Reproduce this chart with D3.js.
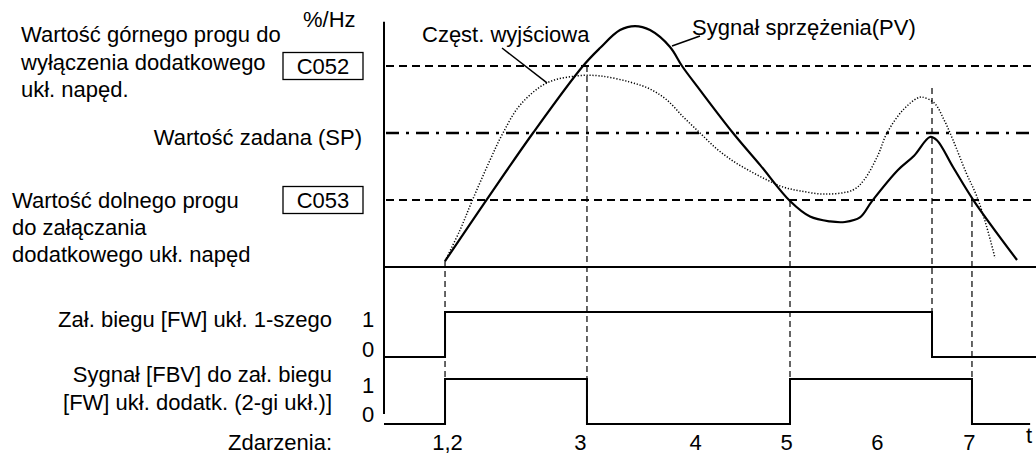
<!DOCTYPE html>
<html><head><meta charset="utf-8">
<script src="https://cdn.jsdelivr.net/npm/d3@7"></script>
<style>
html,body{margin:0;padding:0;background:#fff;}
svg{display:block;}
text{font-family:"Liberation Sans",Arial,Helvetica,sans-serif;font-size:22px;fill:#000;}
</style></head>
<body>
<svg id="chart" width="1036" height="455"></svg>
<script>
// ---------- data ----------
// time axis in arbitrary units (0..100), value axis in % (0..100)
const pvT   = [9.36,15.49,22.85,30.52,33.13,36.2,38.5,40.8,43.87,45.71,48.47,53.53,57.7,62.27,65.34,68.4,70.7,73.0,74.85,78.83,81.3,83.74,84.8,87.27,90.49,97.09];
const pvV   = [2.2,24.2,50.0,75.0,81.7,88.4,89.9,88.4,82.1,75.0,66.0,50.0,38.0,24.6,18.8,17.0,16.8,18.5,24.6,36.2,41.5,48.5,47.3,37.3,24.6,2.6];
const freqT = [9.36,11.66,13.5,16.26,18.25,20.86,25.0,29.6,33.13,37.73,40.8,43.4,45.9,48.47,51.07,53.53,56.13,58.74,61.2,63.8,67.64,71.9,73.6,75.7,77.15,79.6,81.8,82.52,84.4,85.9,87.27,89.3,90.9,92.4,93.71];
const freqV = [2.2,13.8,24.6,39.9,50.0,60.4,68.7,71.3,71.3,69.0,66.4,62.3,56.0,50.0,44.0,39.55,35.8,32.5,29.85,28.4,27.2,28.7,32.4,41.4,50.0,58.6,63.0,63.4,61.2,54.9,47.4,35.1,26.5,15.3,3.4];
const thresholdNames  = ["C052","SP","C053"];
const thresholdValues = [75, 50, 25];
const eventTimes  = [9.36, 31.13, 62.27, 84.05, 90.18];
const eventTopV   = [2.2, 75.0, 24.6, 66.0, 24.6];   // where the guide starts on the curve
const eventLabels = ["1,2","3","4","5","6","7"];
const eventLabelT = [9.66, 30.06, 47.7, 61.66, 75.6, 89.72];
const fwT   = [0, 9.36, 84.05, 100];
const fwV   = [0, 1, 0, 0];
const fbvT  = [0, 9.36, 31.13, 62.27, 90.18, 99.1];
const fbvV  = [0, 1, 0, 1, 0, 0];

// ---------- layout ----------
const svg = d3.select("#chart");
const x  = d3.scaleLinear().domain([0,100]).range([384,1036]);
const y  = d3.scaleLinear().domain([0,100]).range([267,-1]);
const yFW  = d3.scaleLinear().domain([0,1]).range([357,312]);
const yFBV = d3.scaleLinear().domain([0,1]).range([424,379]);

// vertical axis
svg.append("line").attr("x1",x(0)).attr("x2",x(0)).attr("y1",y(91.5)).attr("y2",414)
  .attr("stroke","#000").attr("stroke-width",2);

// main baseline
svg.append("line").attr("x1",x(0)).attr("x2",x(100)).attr("y1",y(0)).attr("y2",y(0))
  .attr("stroke","#000").attr("stroke-width",2);

// threshold lines
thresholdNames.forEach((n,i)=>{
  const sp = n==="SP";
  svg.append("line").attr("x1",x(0)+2).attr("x2",x(100)).attr("y1",y(thresholdValues[i])).attr("y2",y(thresholdValues[i]))
    .attr("stroke","#000").attr("stroke-width",sp?2.6:2)
    .attr("stroke-dasharray",sp?"13,7,3,7":"8,5");
});

// event guide lines
eventTimes.forEach((t,i)=>{
  const bottom = (i===3) ? yFW(0) : yFBV(0);
  svg.append("line").attr("x1",x(t)).attr("x2",x(t)).attr("y1",i===3?88:y(eventTopV[i])).attr("y2",bottom)
    .attr("stroke","#000").attr("stroke-width",1.2).attr("stroke-dasharray","6,4");
});

// curves
const line = d3.line().x(d=>x(d[0])).y(d=>y(d[1])).curve(d3.curveCatmullRom.alpha(0.5));
svg.append("path").attr("d",line(freqT.map((t,i)=>[t,freqV[i]])))
  .attr("fill","none").attr("stroke","#000").attr("stroke-width",1.5).attr("stroke-dasharray","1.2,1.8");
svg.append("path").attr("d",line(pvT.map((t,i)=>[t,pvV[i]])))
  .attr("fill","none").attr("stroke","#000").attr("stroke-width",2.2);

// digital signals
const stepFW = d3.line().x(d=>x(d[0])).y(d=>yFW(d[1])).curve(d3.curveStepAfter);
const stepFBV = d3.line().x(d=>x(d[0])).y(d=>yFBV(d[1])).curve(d3.curveStepAfter);
svg.append("path").attr("d",stepFW(fwT.map((t,i)=>[t,fwV[i]])))
  .attr("fill","none").attr("stroke","#000").attr("stroke-width",2);
svg.append("path").attr("d",stepFBV(fbvT.map((t,i)=>[t,fbvV[i]])))
  .attr("fill","none").attr("stroke","#000").attr("stroke-width",2);

// annotation leaders
svg.append("line").attr("x1",502).attr("y1",48).attr("x2",x(25)).attr("y2",y(68.7)).attr("stroke","#000").attr("stroke-width",1.5);
svg.append("line").attr("x1",672).attr("y1",46).attr("x2",700).attr("y2",36).attr("stroke","#000").attr("stroke-width",1.5);

// texts
function txt(s,xx,yy,anchor){ return svg.append("text").attr("x",xx).attr("y",yy).attr("text-anchor",anchor||"start").text(s); }
txt("Wartość górnego progu do",21,42);
txt("wyłączenia dodatkowego",21,70);
txt("ukł. napęd.",21,97);
txt("%/Hz",303,27);
txt("Wartość zadana (SP)",362,145,"end");
txt("Wartość dolnego progu",12,208);
txt("do załączania",12,235);
txt("dodatkowego ukł. napęd",12,262);
txt("Częst. wyjściowa",422,42);
txt("Sygnał sprzężenia(PV)",692,35);

// threshold boxes
[["C052",75],["C053",25]].forEach(([n,v])=>{
  const cy = y(v);
  svg.append("rect").attr("x",283).attr("y",cy-13.5).attr("width",80).attr("height",27)
    .attr("fill","#fff").attr("stroke","#000").attr("stroke-width",1.3);
  txt(n,323,cy+8,"middle");
});

// signal labels
txt("Zał. biegu [FW] ukł. 1-szego",332,327,"end");
txt("1",362,327); txt("0",362,357);
txt("Sygnał [FBV] do zał. biegu",332,382,"end");
txt("[FW] ukł. dodatk. (2-gi ukł.)]",332,410,"end");
txt("1",362,393); txt("0",362,422);
txt("Zdarzenia:",332,450,"end");

// event axis
const ax = d3.axisBottom(x).tickValues(eventLabelT).tickSize(0)
  .tickFormat((d,i)=>eventLabels[i]);
const g = svg.append("g").attr("transform","translate(0,424)").call(ax);
g.select(".domain").remove();
g.selectAll("text").attr("y",26).attr("dy",0)
  .style("font-family",'"Liberation Sans",Arial,sans-serif').style("font-size","22px").attr("fill","#000");
txt("t",1029,443,"middle");
</script>
</body></html>
